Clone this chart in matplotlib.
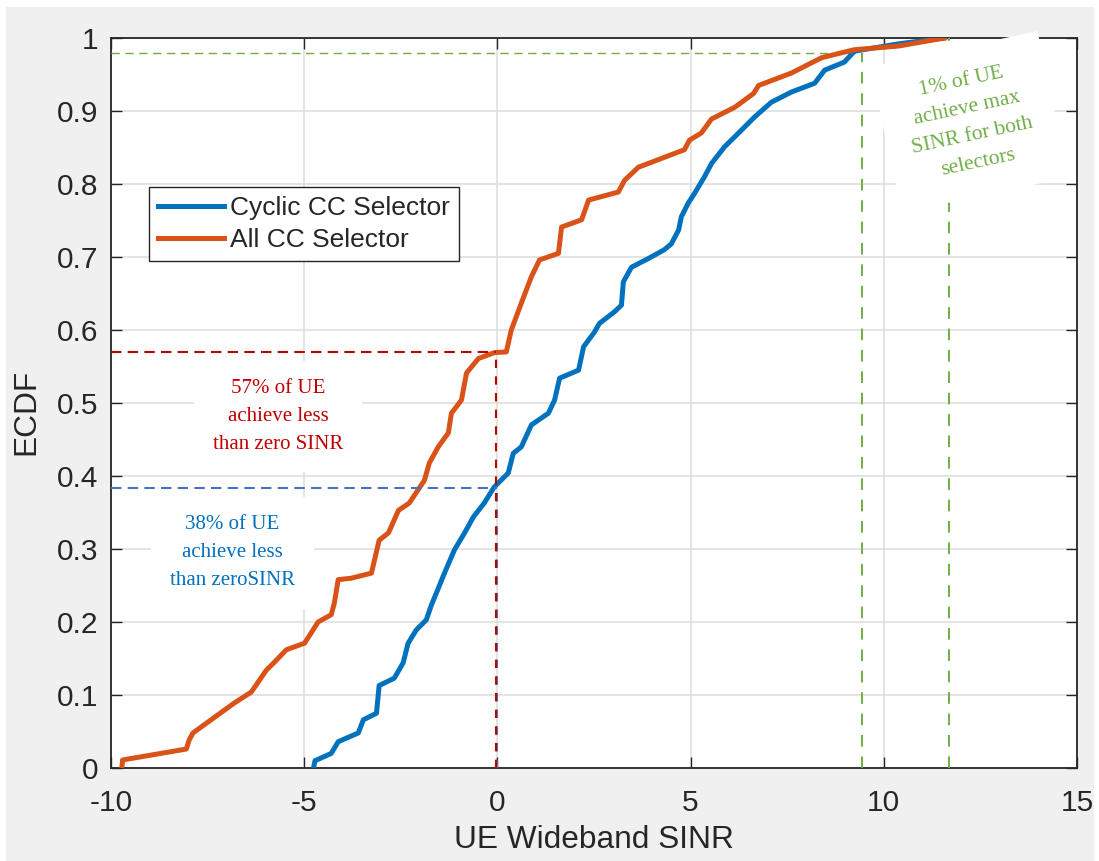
import matplotlib
matplotlib.use('Agg')
import matplotlib.pyplot as plt
from matplotlib.patches import Rectangle

# traced ECDF corner points (x = UE wideband SINR, y = ECDF)
cyclic_x = [-4.76, -4.72, -4.30, -4.12, -3.60, -3.47, -3.13, -3.06, -2.67, -2.44,
            -2.31, -2.10, -1.84, -1.71, -1.53, -1.37, -1.11, -0.85, -0.62, -0.34,
            -0.08, 0.28, 0.41, 0.62, 0.88, 1.32, 1.48, 1.61, 2.10, 2.23,
            2.51, 2.64, 3.03, 3.21, 3.26, 3.47, 3.91, 4.32, 4.50, 4.69,
            4.76, 4.94, 5.10, 5.36, 5.54, 5.88, 6.32, 6.66, 7.09, 7.61,
            8.21, 8.47, 8.98, 9.24, 10.38, 11.57]
cyclic_y = [0.0, 0.010, 0.020, 0.036, 0.048, 0.066, 0.075, 0.113, 0.123, 0.144,
            0.171, 0.189, 0.203, 0.223, 0.246, 0.267, 0.299, 0.322, 0.344, 0.363,
            0.385, 0.404, 0.431, 0.440, 0.470, 0.486, 0.504, 0.534, 0.545, 0.577,
            0.597, 0.609, 0.625, 0.634, 0.666, 0.686, 0.698, 0.710, 0.718, 0.737,
            0.755, 0.774, 0.787, 0.810, 0.828, 0.851, 0.874, 0.892, 0.912, 0.926,
            0.938, 0.956, 0.967, 0.982, 0.992, 1.0]

allcc_x = [-9.72, -9.70, -8.05, -7.98, -7.88, -6.81, -6.37, -5.98, -5.77, -5.46,
           -4.99, -4.82, -4.64, -4.30, -4.22, -4.12, -3.78, -3.26, -3.06, -2.82,
           -2.56, -2.28, -1.89, -1.76, -1.53, -1.27, -1.19, -0.93, -0.80, -0.49,
           -0.08, 0.23, 0.36, 0.62, 0.88, 1.09, 1.58, 1.66, 2.18, 2.36,
           3.13, 3.29, 3.65, 4.84, 4.97, 5.28, 5.54, 6.14, 6.63, 6.76,
           7.61, 8.39, 9.24, 10.38, 11.57]
allcc_y = [0.0, 0.011, 0.026, 0.038, 0.048, 0.089, 0.104, 0.134, 0.145, 0.162,
           0.171, 0.185, 0.200, 0.210, 0.226, 0.258, 0.260, 0.267, 0.312, 0.322,
           0.353, 0.363, 0.394, 0.418, 0.440, 0.459, 0.486, 0.504, 0.541, 0.561,
           0.569, 0.570, 0.600, 0.637, 0.673, 0.696, 0.705, 0.741, 0.751, 0.778,
           0.789, 0.805, 0.823, 0.847, 0.860, 0.870, 0.889, 0.905, 0.924, 0.935,
           0.952, 0.973, 0.984, 0.989, 1.0]

xticks = [-10, -5, 0, 5, 10, 15]
yticks = [0, 0.1, 0.2, 0.3, 0.4, 0.5, 0.6, 0.7, 0.8, 0.9, 1]
ytick_labels = ['0', '0.1', '0.2', '0.3', '0.4', '0.5', '0.6', '0.7', '0.8', '0.9', '1']

# annotation levels
all_below_zero = 0.57
cyc_below_zero = 0.383
max_level = 0.98
max_x1 = 9.43
max_x2 = 11.69

plt.rcParams['font.family'] = ['Liberation Sans', 'DejaVu Sans']

fig = plt.figure(figsize=(10.99, 8.61), dpi=100, facecolor='white')
fig.patches.append(Rectangle((6 / 1099, 0), 1087 / 1099, 854 / 861,
                             transform=fig.transFigure, color='#f0f0f0', zorder=-5))
ax = fig.add_axes([111 / 1099, 1 - 768 / 861, 966 / 1099, 730 / 861])
ax.set_facecolor('white')

ax.plot(cyclic_x, cyclic_y, color='#0072BD', lw=3.6, label='Cyclic CC Selector', zorder=4)
ax.plot(allcc_x, allcc_y, color='#D95319', lw=3.6, label='All CC Selector', zorder=5)

# 0 SINR markers
ax.plot([-10, 0], [cyc_below_zero, cyc_below_zero], color='#4472C4', lw=1.5,
        dashes=(5, 3), zorder=6)
ax.plot([0, 0], [0, cyc_below_zero], color='#4472C4', lw=1.5, dashes=(4, 4), zorder=6)
ax.plot([-10, -0.03], [all_below_zero, all_below_zero], color='#C00000', lw=1.5,
        dashes=(5, 3), zorder=6)
ax.plot([-0.03, -0.03], [0, all_below_zero], color='#C00000', lw=1.5,
        dashes=(4, 4), dash_capstyle='butt', zorder=7)

# max SINR markers
ax.plot([-10, max_x1], [max_level, max_level], color='#70AD47', lw=1.0, dashes=(6, 4), zorder=3)
ax.plot([max_x1, max_x1], [0, max_level], color='#70AD47', lw=1.4, dashes=(6, 5), zorder=3)
ax.plot([max_x2, max_x2], [0, 1.0], color='#70AD47', lw=1.4, dashes=(6, 5), zorder=3)

serif = ['Liberation Serif', 'DejaVu Serif']
ax.text(-5.67, 0.4815, '57% of UE\nachieve less\nthan zero SINR', color='#C00000',
        fontsize=15, family=serif, ha='center', va='center', linespacing=1.62,
        bbox=dict(boxstyle='square,pad=0.9', fc='white', ec='none'), zorder=3)
ax.text(-6.86, 0.295, '38% of UE\nachieve less\nthan zeroSINR', color='#0070C0',
        fontsize=15, family=serif, ha='center', va='center', linespacing=1.62,
        bbox=dict(boxstyle='square,pad=0.9', fc='white', ec='none'), zorder=3)
ax.text(12.22, 0.885, '1% of UE\nachieve max\nSINR for both\nselectors', color='#70AD47',
        fontsize=15.5, family=serif, ha='center', va='center', linespacing=1.62,
        rotation=12, rotation_mode='anchor', clip_on=False,
        bbox=dict(boxstyle='square,pad=1.1', fc='white', ec='none'), zorder=3.5)

ax.set_xlim(-10, 15)
ax.set_ylim(0, 1)
ax.set_xticks(xticks)
ax.set_xticklabels([str(t) for t in xticks])
ax.set_yticks(yticks)
ax.set_yticklabels(ytick_labels)
ax.grid(True, color='#dcdcdc', lw=1.1, zorder=0)
ax.set_axisbelow(True)
ax.tick_params(direction='in', length=8, width=1, top=True, right=True,
               labelsize=21.5, colors='#262626', pad=9)
ax.tick_params(axis='x', pad=15)
for s in ax.spines.values():
    s.set_color('#262626')
    s.set_linewidth(1.3)

ax.set_xlabel('UE Wideband SINR', fontsize=22.8, color='#262626')
ax.set_ylabel('ECDF', fontsize=22.8, color='#262626')
ax.xaxis.set_label_coords(0.5, -0.078)
ax.yaxis.set_label_coords(-0.0725, 0.488)

leg = ax.legend(loc='upper left', bbox_to_anchor=(0.039, 0.796), fontsize=19,
                handlelength=2.5, handletextpad=0.23, borderpad=0.35, labelspacing=0.3,
                fancybox=False, framealpha=1, edgecolor='#262626', borderaxespad=0)
leg.get_frame().set_linewidth(1.0)
for t in leg.get_texts():
    t.set_color('#262626')

fig.savefig('out.png', dpi=100, facecolor=fig.get_facecolor())
